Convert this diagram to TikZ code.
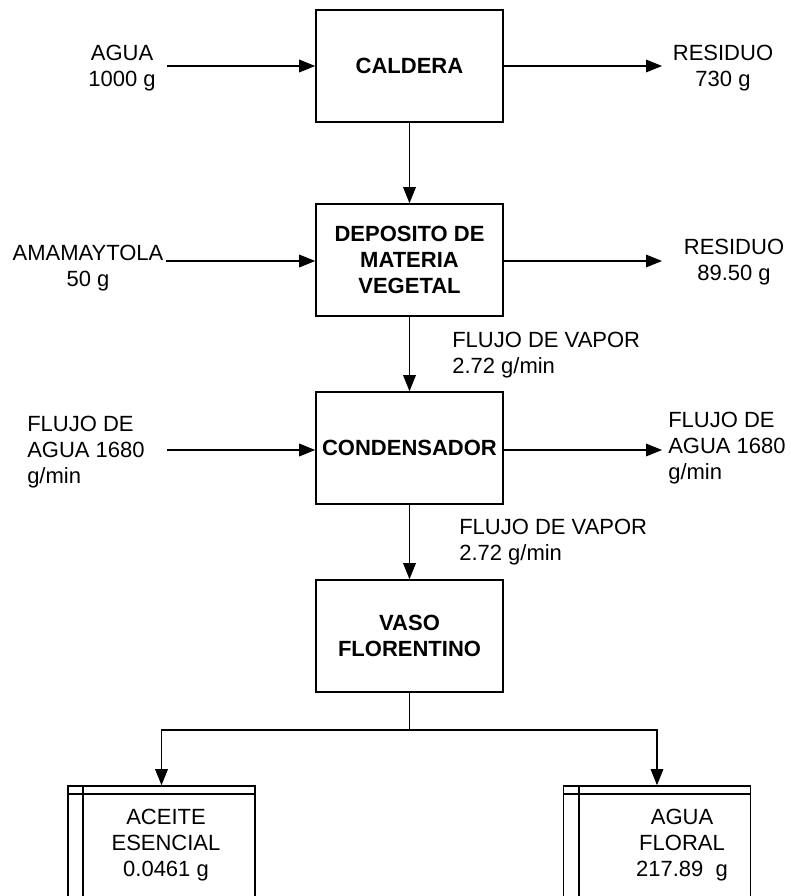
\documentclass[tikz,border=0pt]{standalone}
\usepackage{fontspec}
\setmainfont{Liberation Sans}
\usetikzlibrary{arrows.meta}

\begin{document}
\begin{tikzpicture}[x=0.75pt, y=-0.75pt,
  caja/.style={draw, line width=1.2pt, fill=white, minimum width=140.25pt, minimum height=84pt, inner sep=0pt, align=center, font=\fontsize{16.5}{19.5}\selectfont\bfseries},
  texto/.style={inner sep=0pt, font=\fontsize{16.5}{19.5}\selectfont},
  flecha/.style={line width=0.8pt, -{Triangle[length=12pt,width=9.5pt]}},
  doble/.style={line width=1.2pt}]
  \useasboundingbox (0,0) rectangle (790,896);

  % equipos
  \node[caja] (caldera) at (409.5,66) {CALDERA};
  \node[caja] (deposito) at (409.5,260) {DEPOSITO DE\\MATERIA\\VEGETAL};
  \node[caja] (condensador) at (409.5,448) {CONDENSADOR};
  \node[caja] (vaso) at (409.5,636) {VASO\\FLORENTINO};

  % entradas y salidas
  \node[texto, align=center] (agua) at (122,68) {AGUA\\1000 g};
  \node[texto, align=center] (residuo1) at (723,68) {RESIDUO\\730 g};
  \node[texto, align=center] (amamaytola) at (88,268) {AMAMAYTOLA\\50 g};
  \node[texto, align=center] (residuo2) at (734,262) {RESIDUO\\89.50 g};
  \node[texto, align=left, anchor=west] (aguafria) at (27,452) {FLUJO DE\\AGUA 1680\\g/min};
  \node[texto, align=left, anchor=west] (aguacaliente) at (668,448) {FLUJO DE\\AGUA 1680\\g/min};
  \node[texto, align=left, anchor=west] (vapor1) at (452,355) {FLUJO DE VAPOR\\2.72 g/min};
  \node[texto, align=left, anchor=west] (vapor2) at (459,542) {FLUJO DE VAPOR\\2.72 g/min};

  \coordinate (e1) at (167,66);
  \coordinate (s1) at (662,66);
  \coordinate (e2) at (166,261);
  \coordinate (s2) at (662,261);
  \coordinate (e3) at (167,450);
  \coordinate (s3) at (662,450);

  \draw[flecha] (e1) -- (e1 -| caldera.west);
  \draw[flecha] (caldera) -- (s1);
  \draw[flecha] (e2) -- (e2 -| deposito.west);
  \draw[flecha] (s2 -| deposito.east) -- (s2);
  \draw[flecha] (e3) -- (e3 -| condensador.west);
  \draw[flecha] (s3 -| condensador.east) -- (s3);

  \draw[flecha] (caldera) -- (deposito);
  \draw[flecha] (deposito) -- (condensador);
  \draw[flecha] (condensador) -- (vaso);

  % productos
  \node[caja, minimum height=123pt] (aceite) at (161.5,868) {};
  \node[caja, minimum height=123pt] (floral) at (657,868) {};
  \foreach \p in {aceite, floral} {
    \draw[doble] ([yshift=-6.75pt]\p.north west) -- ([yshift=-6.75pt]\p.north east);
    \draw[doble] ([xshift=12pt]\p.north west) -- ([xshift=12pt]\p.south west);
  }
  \node[texto, align=center] (aceitetxt) at (166,845) {ACEITE\\ESENCIAL\\0.0461 g};
  \node[texto, align=center] (floraltxt) at (682,845) {AGUA\\FLORAL\\217.89~~g};

  \coordinate (rama) at (409.5,730);
  \draw[line width=0.8pt] (vaso) -- (rama);
  \draw[flecha] (rama) -| (aceite.north);
  \draw[flecha] (rama) -| (floral.north);
\end{tikzpicture}
\end{document}
